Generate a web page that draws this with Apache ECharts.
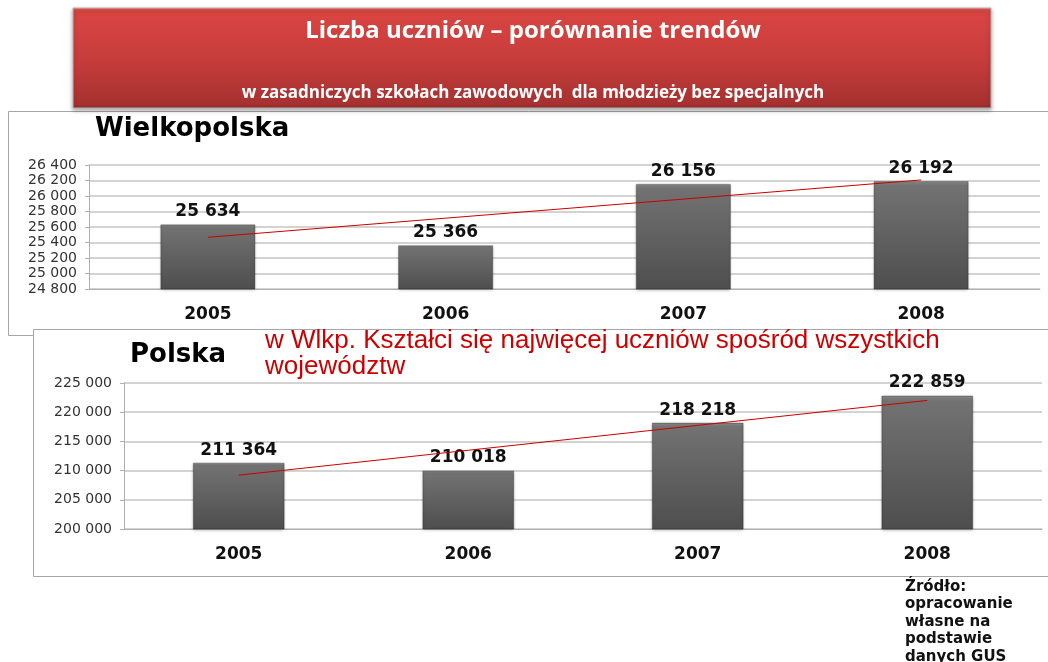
<!DOCTYPE html>
<html>
<head>
<meta charset="utf-8">
<script src="https://cdn.jsdelivr.net/npm/echarts@6/dist/echarts.min.js"></script>
<style>
    html,body{margin:0;padding:0;background:#fff;}
    #main{width:1048px;height:662px;}
</style>
</head>
<body>
<div id="main"></div>
<script>
// dane
var years = ['2005', '2006', '2007', '2008'];
var wlkpValues = [25634, 25366, 26156, 26192];
var wlkpTrend = [25467, 25714, 25960, 26207];      // linia trendu
var wlkpTicks = {min: 24800, max: 26400, step: 200};
var polskaValues = [211364, 210018, 218218, 222859];
var polskaTrend = [209212, 213481, 217749, 222018];
var polskaTicks = {min: 200000, max: 225000, step: 5000};

// teksty
var titleText = 'Liczba uczniów – porównanie trendów';
var subtitleText = 'w zasadniczych szkołach zawodowych  dla młodzieży bez specjalnych';
var noteLines = ['w Wlkp. Kształci się najwięcej uczniów spośród wszystkich', 'województw'];
var sourceLines = ['Źródło:', 'opracowanie', 'własne na', 'podstawie', 'danych GUS'];

;(function () {
    var font = '"DejaVu Sans", Verdana, sans-serif';

    // format liczby z odstępem tysięcy
    function fmt(v) {
        return String(v).replace(/\B(?=(\d{3})+(?!\d))/g, ' ');
    }

    var barColor = new echarts.graphic.LinearGradient(0, 0, 0, 1, [
        {offset: 0, color: '#8a8a8a'},
        {offset: 0.04, color: '#727272'},
        {offset: 1, color: '#4e4e4e'}
    ]);

    function xAxis(idx) {
        return {
            type: 'category',
            gridIndex: idx,
            data: years,
            axisLine: {lineStyle: {color: '#b0b0b0'}},
            axisTick: {show: false},
            axisLabel: {margin: 17, color: '#111', fontFamily: font, fontWeight: 'bold', fontSize: 17}
        };
    }

    function yAxis(idx, t) {
        return {
            type: 'value',
            gridIndex: idx,
            min: t.min,
            max: t.max,
            interval: t.step,
            axisLine: {show: true, lineStyle: {color: '#b0b0b0'}},
            axisTick: {show: true, length: 4, lineStyle: {color: '#b0b0b0'}},
            splitLine: {lineStyle: {color: '#c4c4c4', width: 1.5}},
            axisLabel: {margin: 12, color: '#333', fontFamily: font, fontSize: 14, formatter: fmt}
        };
    }

    function bars(idx, data) {
        return {
            type: 'bar',
            xAxisIndex: idx,
            yAxisIndex: idx,
            barWidth: '40%',
            data: data,
            itemStyle: {
                color: barColor,
                borderColor: 'rgba(0,0,0,0.25)',
                borderWidth: 1,
                shadowColor: 'rgba(0,0,0,0.3)',
                shadowBlur: 3,
                shadowOffsetY: 1
            },
            label: {
                show: true,
                position: 'top',
                distance: 4,
                color: '#111',
                fontFamily: font,
                fontWeight: 'bold',
                fontSize: 17,
                formatter: function (p) { return fmt(p.value); }
            },
            z: 2
        };
    }

    function trend(idx, data) {
        return {
            type: 'line',
            xAxisIndex: idx,
            yAxisIndex: idx,
            data: data,
            symbol: 'none',
            lineStyle: {color: '#cc0000', width: 1},
            z: 5
        };
    }

    var myChart = echarts.init(document.getElementById('main'));
    var option = {
        animation: false,
        backgroundColor: '#fff',
        grid: [
            {left: 89, right: 8, top: 165, height: 124},
            {left: 124, right: 6, top: 383, height: 146}
        ],
        xAxis: [xAxis(0), xAxis(1)],
        yAxis: [yAxis(0, wlkpTicks), yAxis(1, polskaTicks)],
        series: [
            bars(0, wlkpValues), trend(0, wlkpTrend),
            bars(1, polskaValues), trend(1, polskaTrend)
        ],
        graphic: [
            // ramki paneli
            {type: 'rect', z: -10, shape: {x: 8.5, y: 111.5, width: 1060, height: 224},
                style: {fill: '#fff', stroke: '#a6a6a6', lineWidth: 1}},
            {type: 'rect', z: -9, shape: {x: 33.5, y: 329.5, width: 1040, height: 247},
                style: {fill: '#fff', stroke: '#a6a6a6', lineWidth: 1}},
            // baner
            {type: 'rect', z: 10, shape: {x: 73, y: 8, width: 918, height: 100},
                style: {
                    fill: new echarts.graphic.LinearGradient(0, 0, 0, 1, [
                        {offset: 0, color: '#e8605c'},
                        {offset: 0.04, color: '#d94542'},
                        {offset: 0.5, color: '#c73d3b'},
                        {offset: 0.96, color: '#a63130'},
                        {offset: 1, color: '#8e2726'}
                    ]),
                    stroke: '#b9b9b9', lineWidth: 1,
                    shadowColor: 'rgba(0,0,0,0.35)', shadowBlur: 4, shadowOffsetY: 2
                }},
            {type: 'text', z: 11, x: 533, y: 31,
                style: {text: titleText, fill: '#fff', font: 'bold 24px "Open Sans", sans-serif',
                    textAlign: 'center', textVerticalAlign: 'middle'}},
            {type: 'text', z: 11, x: 533, y: 93,
                style: {text: subtitleText, fill: '#fff', font: 'bold 17px "Open Sans", sans-serif',
                    textAlign: 'center', textVerticalAlign: 'middle'}},
            // tytuły paneli
            {type: 'text', x: 95, y: 129,
                style: {text: 'Wielkopolska', fill: '#000', font: 'bold 26px ' + font, textVerticalAlign: 'middle'}},
            {type: 'text', x: 130, y: 355,
                style: {text: 'Polska', fill: '#000', font: 'bold 26px ' + font, textVerticalAlign: 'middle'}},
            // komentarz
            {type: 'text', x: 265, y: 328,
                style: {text: noteLines.join('\n'), fill: '#cc0000', font: '26px "Liberation Sans", Arial, sans-serif',
                    lineHeight: 26}},
            // źródło
            {type: 'text', x: 905, y: 578,
                style: {text: sourceLines.join('\n'), fill: '#111', font: 'bold 15px ' + font, lineHeight: 17.5}}
        ]
    };
    myChart.setOption(option);
})();
</script>
</body>
</html>
